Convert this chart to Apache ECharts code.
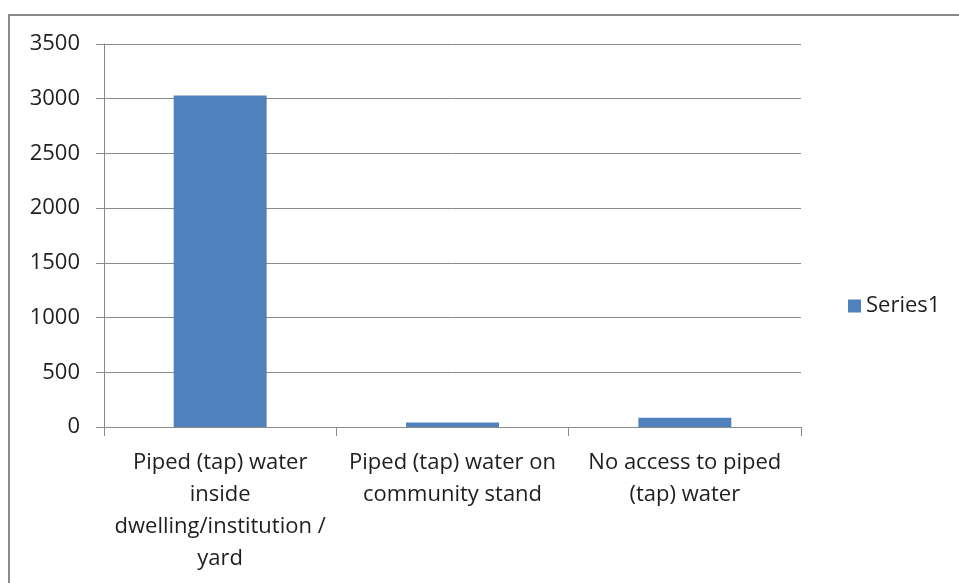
<!DOCTYPE html>
<html>
<head>
<meta charset="utf-8">
<script src="https://cdn.jsdelivr.net/npm/echarts@6/dist/echarts.min.js"></script>
<style>
  html, body { margin: 0; padding: 0; background: #fff; }
  #frame { position: absolute; left: 8px; top: 14px; width: 960px; height: 600px; border: 2px solid #8a8a8a; box-sizing: border-box; }
  #chart { position: absolute; left: 0; top: 0; width: 959px; height: 583px; }
</style>
</head>
<body>
<div id="frame"></div>
<div id="chart"></div>
<script>
const categories = [
    'Piped (tap) water\ninside\ndwelling/institution /\nyard',
    'Piped (tap) water on\ncommunity stand',
    'No access to piped\n(tap) water'
];
const series1 = [3030, 40, 85];
const yTicks = { min: 0, max: 3500, interval: 500 };

const fontFamily = '"Open Sans", Lato, sans-serif';
const chart = echarts.init(document.getElementById('chart'));

chart.setOption({
    backgroundColor: 'transparent',
    animation: false,
    grid: { left: 104, right: 158, top: 44, bottom: 156 },
    legend: {
        orient: 'vertical',
        left: 843,
        top: 290,
        icon: 'rect',
        itemWidth: 13,
        itemHeight: 13,
        itemGap: 8,
        textStyle: { color: '#1e1e1e', fontSize: 22, fontFamily: fontFamily }
    },
    xAxis: {
        type: 'category',
        data: categories,
        axisLine: { lineStyle: { color: '#8a8a8a', width: 1 } },
        axisTick: { show: true, length: 9, lineStyle: { color: '#8a8a8a' } },
        axisLabel: {
            color: '#1e1e1e',
            fontSize: 22,
            fontFamily: fontFamily,
            lineHeight: 32,
            margin: 20,
            interval: 0
        }
    },
    yAxis: {
        type: 'value',
        min: yTicks.min,
        max: yTicks.max,
        interval: yTicks.interval,
        axisLine: { show: true, lineStyle: { color: '#8a8a8a', width: 1 } },
        axisTick: { show: true, length: 8, lineStyle: { color: '#8a8a8a' } },
        splitLine: { lineStyle: { color: '#8a8a8a', width: 1 } },
        axisLabel: {
            color: '#1e1e1e',
            fontSize: 22,
            fontFamily: fontFamily,
            margin: 24,
            formatter: function (v) { return String(v); }
        }
    },
    series: [{
        name: 'Series1',
        type: 'bar',
        data: series1,
        barWidth: '40%',
        itemStyle: { color: '#4f81bd' }
    }]
});
</script>
</body>
</html>
